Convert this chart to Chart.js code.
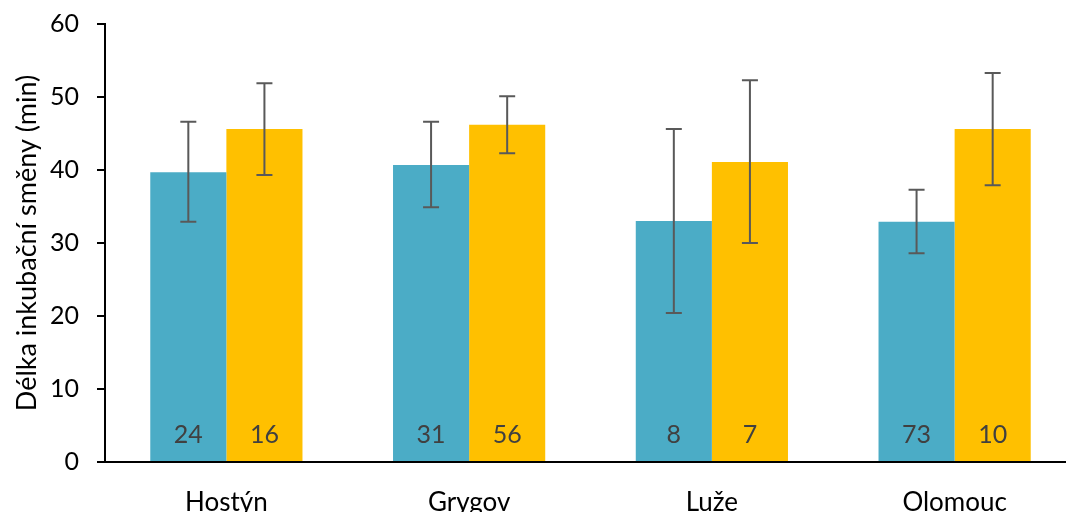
<!DOCTYPE html>
<html><head><meta charset="utf-8">
<script src="https://cdn.jsdelivr.net/npm/chart.js@4"></script>
<style>html,body{margin:0;padding:0;overflow:hidden;background:#fff}#wrap{width:1076px;height:512px}</style>
</head><body><div id="wrap"><canvas id="c" width="1076" height="512"></canvas></div>
<script>
const categories = ['Hostýn', 'Grygov', 'Luže', 'Olomouc'];
const seriesA = [39.7, 40.7, 33.0, 32.9];
const seriesAHigh = [46.6, 46.6, 45.6, 37.3];
const seriesALow = [32.9, 34.9, 20.4, 28.6];
const seriesACount = ['24', '31', '8', '73'];
const seriesB = [45.6, 46.2, 41.1, 45.6];
const seriesBHigh = [51.9, 50.1, 52.3, 53.3];
const seriesBLow = [39.3, 42.3, 30.0, 37.9];
const seriesBCount = ['16', '56', '7', '10'];
const yTicks = [0, 10, 20, 30, 40, 50, 60];
const yTitle = 'Délka inkubační směny (min)';

const FONT = 'Lato, "Open Sans", sans-serif';

const errPlugin = {
  id: 'err',
  afterDatasetsDraw(chart) {
    const ctx = chart.ctx, y = chart.scales.y;
    const highs = [seriesAHigh, seriesBHigh], lows = [seriesALow, seriesBLow], counts = [seriesACount, seriesBCount];
    chart.data.datasets.forEach((ds, di) => {
      chart.getDatasetMeta(di).data.forEach((bar, i) => {
        const x = bar.x;
        const yh = y.getPixelForValue(highs[di][i]), yl = y.getPixelForValue(lows[di][i]);
        ctx.save();
        ctx.strokeStyle = '#595959'; ctx.lineWidth = 2;
        ctx.beginPath();
        ctx.moveTo(x, yh); ctx.lineTo(x, yl);
        ctx.moveTo(x - 8, yh); ctx.lineTo(x + 8, yh);
        ctx.moveTo(x - 8, yl); ctx.lineTo(x + 8, yl);
        ctx.stroke();
        ctx.fillStyle = '#404040';
        ctx.font = '25px ' + FONT;
        ctx.textAlign = 'center'; ctx.textBaseline = 'middle';
        ctx.fillText(counts[di][i], x, y.getPixelForValue(3.7));
        ctx.restore();
      });
    });
  }
};

new Chart(document.getElementById('c'), {
  type: 'bar',
  data: {
    labels: categories,
    datasets: [
      { data: seriesA, backgroundColor: '#4BACC6' },
      { data: seriesB, backgroundColor: '#FFC000' }
    ]
  },
  options: {
    responsive: false,
    animation: false,
    devicePixelRatio: 1,
    layout: { padding: { top: 24, left: 0, right: 0, bottom: 0 } },
    plugins: { legend: { display: false }, tooltip: { enabled: false } },
    datasets: { bar: { categoryPercentage: 0.627, barPercentage: 1.0 } },
    scales: {
      x: {
        grid: { display: true, drawOnChartArea: false, drawTicks: false },
        border: { display: true, color: '#000', width: 2 },
        ticks: { color: '#000', font: { family: FONT, size: 26 }, padding: 25 },
        afterFit(s) { s.height = 50; s.paddingLeft = 0; s.paddingRight = 0; }
      },
      y: {
        min: 0, max: 60,
        afterBuildTicks(s) { s.ticks = yTicks.map(v => ({ value: v })); },
        grid: { display: true, drawOnChartArea: false, drawTicks: true, tickLength: 8, color: '#000', lineWidth: 2 },
        border: { display: true, color: '#000', width: 2 },
        ticks: { color: '#000', font: { family: FONT, size: 25 }, padding: 18 },
        title: { display: true, text: yTitle, color: '#000', font: { family: FONT, size: 27 }, padding: { top: 11, bottom: 0 } },
        afterFit(s) { s.width = 105; s.paddingTop = 0; s.paddingBottom = 0; }
      }
    }
  },
  plugins: [errPlugin]
});
</script></body></html>
